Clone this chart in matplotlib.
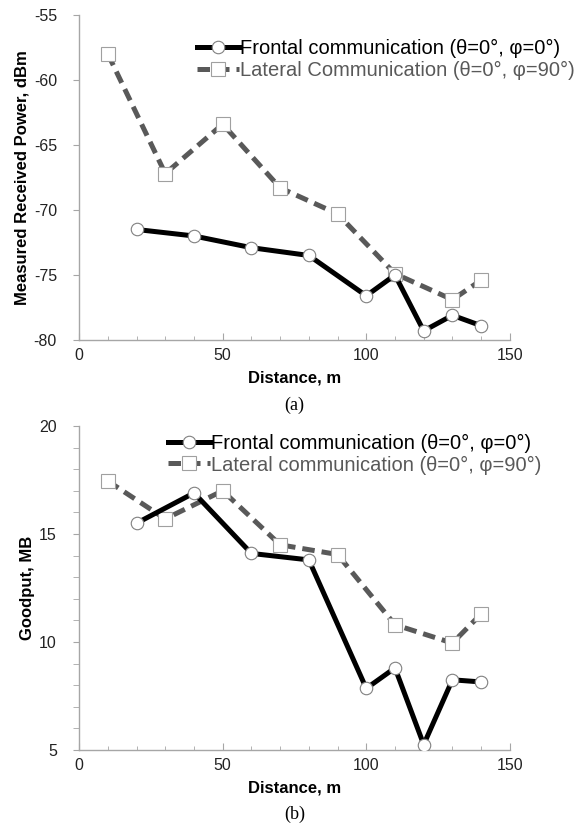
import matplotlib.pyplot as plt
from matplotlib.ticker import MultipleLocator

# data
# (a) measured received power, dBm
frontal_x_a = [20, 40, 60, 80, 100, 110, 120, 130, 140]
frontal_p = [-71.5, -72.0, -72.9, -73.5, -76.6, -75.0, -79.3, -78.1, -78.9]
lateral_x_a = [10, 30, 50, 70, 90, 110, 130, 140]
lateral_p = [-58.0, -67.2, -63.4, -68.3, -70.3, -74.9, -76.9, -75.4]

# (b) goodput, MB
frontal_x_b = [20, 40, 60, 80, 100, 110, 120, 130, 140]
frontal_g = [15.5, 16.9, 14.1, 13.8, 7.85, 8.8, 5.25, 8.25, 8.15]
lateral_x_b = [10, 30, 50, 70, 90, 110, 130, 140]
lateral_g = [17.45, 15.7, 17.0, 14.5, 14.05, 10.8, 9.95, 11.3]

labels_a = ['Frontal communication (\u03b8=0\u00b0, \u03c6=0\u00b0)',
            'Lateral Communication (\u03b8=0\u00b0, \u03c6=90\u00b0)']
labels_b = ['Frontal communication (\u03b8=0\u00b0, \u03c6=0\u00b0)',
            'Lateral communication (\u03b8=0\u00b0, \u03c6=90\u00b0)']

plt.rcParams['font.family'] = ['Liberation Sans', 'DejaVu Sans']
plt.rcParams['axes.unicode_minus'] = False

black = '#000000'
gray = '#595959'
axis_gray = '#a6a6a6'

fig = plt.figure(figsize=(5.82, 8.23), dpi=100)
ax1 = fig.add_axes([0.136, 0.5869, 0.740, 0.3949])
ax2 = fig.add_axes([0.136, 0.0887, 0.740, 0.3937])


def style(ax, ylim, ymajor, yminor, ylabel, caption):
    ax.set_xlim(0, 150)
    ax.set_ylim(*ylim)
    ax.xaxis.set_major_locator(MultipleLocator(50))
    ax.xaxis.set_minor_locator(MultipleLocator(10))
    ax.yaxis.set_major_locator(MultipleLocator(ymajor))
    if yminor:
        ax.yaxis.set_minor_locator(MultipleLocator(yminor))
    for s in ['top', 'right']:
        ax.spines[s].set_visible(False)
    for s in ['left', 'bottom']:
        ax.spines[s].set_color(axis_gray)
        ax.spines[s].set_linewidth(1.0)
    ax.tick_params(axis='x', which='both', direction='in', color=axis_gray,
                   labelsize=11.5, labelcolor='#222222', pad=6)
    ax.tick_params(axis='x', which='major', length=5)
    ax.tick_params(axis='x', which='minor', length=3)
    ax.tick_params(axis='y', which='both', direction='out', color=axis_gray,
                   labelsize=11.5, labelcolor='#222222', length=4, pad=12)
    ax.set_xlabel('Distance, m', fontsize=12, fontweight='bold', labelpad=5)
    ax.set_ylabel(ylabel, fontsize=12, fontweight='bold', labelpad=3)
    ax.text(0.5, -0.2, caption, transform=ax.transAxes, ha='center',
            va='center', fontsize=13, family='Liberation Serif')


def draw(ax, fx, fy, lx, ly, labels, anchor):
    ax.plot(fx, fy, color=black, lw=3.6, marker='o', ms=9,
            mfc='white', mec='#808080', mew=0.8, label=labels[0], zorder=3)
    ax.plot(lx, ly, color=gray, lw=3.6, ls=(0, (2.5, 1.4)), marker='s',
            ms=10, mfc='white', mec='#a0a0a0', mew=0.8, label=labels[1],
            zorder=2)
    leg = ax.legend(loc='upper left', bbox_to_anchor=anchor,
                    bbox_transform=fig.transFigure, frameon=False,
                    fontsize=14.5, handlelength=2.1, handletextpad=0.05,
                    labelspacing=0.12, borderpad=0, borderaxespad=0)
    leg.get_texts()[0].set_color(black)
    leg.get_texts()[1].set_color(gray)


draw(ax1, frontal_x_a, frontal_p, lateral_x_a, lateral_p, labels_a,
     (0.338, 0.9526))
style(ax1, (-80, -55), 5, None, 'Measured Received Power, dBm', '(a)')

draw(ax2, frontal_x_b, frontal_g, lateral_x_b, lateral_g, labels_b,
     (0.289, 0.4727))
style(ax2, (5, 20), 5, 1, 'Goodput, MB', '(b)')

fig.savefig('out.png', dpi=100)
